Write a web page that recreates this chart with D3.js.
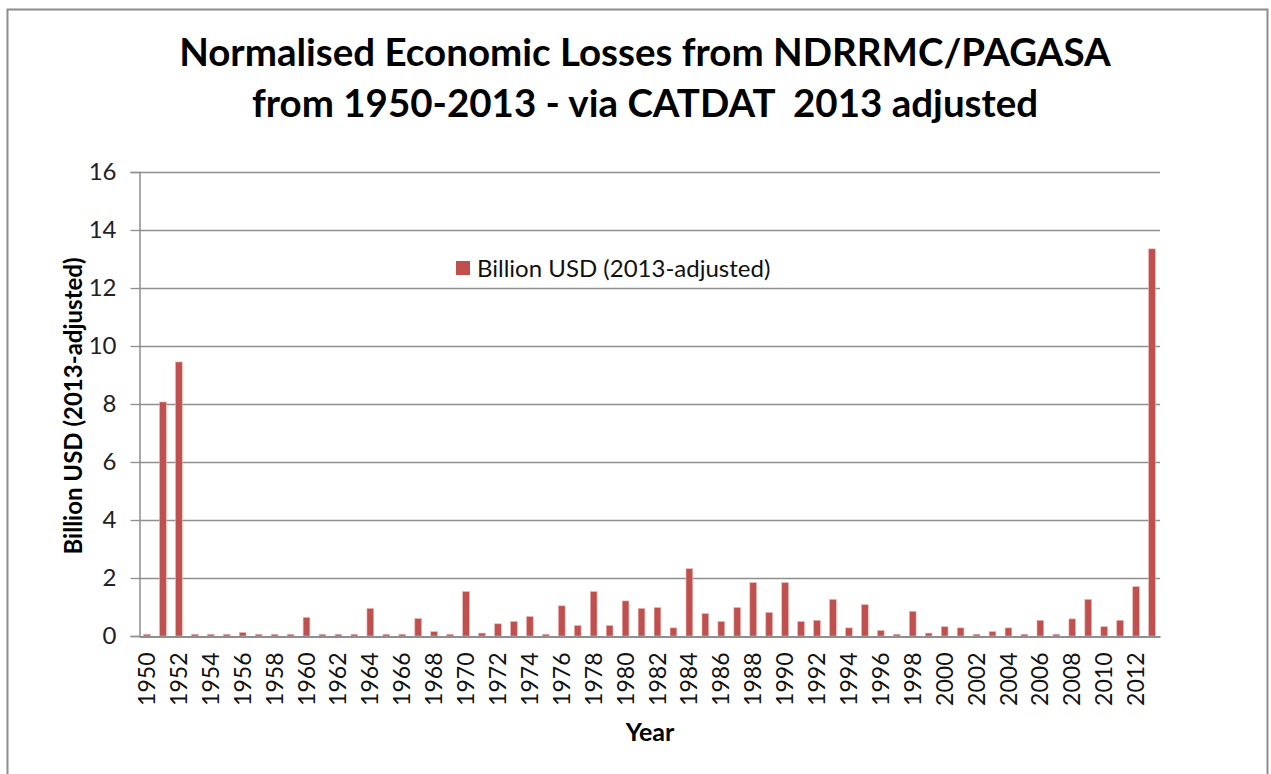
<!DOCTYPE html>
<html>
<head>
<meta charset="utf-8">
<script src="https://cdn.jsdelivr.net/npm/d3@7"></script>
<style>
  body { margin: 0; background: #fff; }
  svg { display: block; font-family: Lato, "Open Sans", sans-serif; }
</style>
</head>
<body>
<svg id="chart" width="1271" height="774"></svg>
<script>
// years 1950..2013
let years = d3.range(1950, 2014);
// Billion USD (2013-adjusted)
let losses = [
  0.06, 8.07, 9.45, 0.06, 0.06, 0.06, 0.12, 0.06, 0.06, 0.06,   // 1950s
  0.64, 0.06, 0.06, 0.06, 0.95, 0.06, 0.06, 0.60, 0.15, 0.06,   // 1960s
  1.53, 0.10, 0.42, 0.50, 0.67, 0.06, 1.04, 0.36, 1.53, 0.36,   // 1970s
  1.21, 0.95, 0.98, 0.28, 2.32, 0.77, 0.50, 0.98, 1.84, 0.81,   // 1980s
  1.84, 0.50, 0.54, 1.26, 0.28, 1.08, 0.19, 0.06, 0.85, 0.10,   // 1990s
  0.32, 0.28, 0.06, 0.15, 0.28, 0.06, 0.54, 0.06, 0.59, 1.26,   // 2000s
  0.32, 0.54, 1.70, 13.35                                        // 2010s
];
let yTicks = [0, 2, 4, 6, 8, 10, 12, 14, 16];
let xTickYears = years.filter(y => y % 2 == 0);
let titleLines = ["Normalised Economic Losses from NDRRMC/PAGASA", "from 1950-2013 - via CATDAT  2013 adjusted"];
let seriesName = "Billion USD (2013-adjusted)";

const svg = d3.select("#chart");
const plotL = 139, plotR = 1160, plotT = 172, plotB = 636;
const barColor = "#C0504D";

// outer frame
svg.append("rect")
  .attr("x", 7.5).attr("y", 9.5)
  .attr("width", 1260).attr("height", 770)
  .attr("fill", "#fff").attr("stroke", "#8c8c8c").attr("stroke-width", 2);

var x = d3.scaleBand().domain(years).range([plotL, plotR]).paddingInner(0.58).paddingOuter(0.29);
var y = d3.scaleLinear().domain([0, 16]).range([plotB, plotT]);

// gridlines
svg.append("g").selectAll("line")
  .data(yTicks.filter(t => t > 0))
  .enter().append("line")
  .attr("x1", plotL).attr("x2", plotR)
  .attr("y1", d => Math.round(y(d)) + 0.5).attr("y2", d => Math.round(y(d)) + 0.5)
  .attr("stroke", "#8f8f8f").attr("stroke-width", 1.3);

// y axis
var yAxis = d3.axisLeft(y).tickValues(yTicks).tickSize(9).tickPadding(14);
var gy = svg.append("g").attr("transform", "translate(" + (plotL + 0.5) + ",0)").call(yAxis);
gy.select(".domain").attr("stroke", "#8f8f8f").attr("stroke-width", 1.5);
gy.selectAll(".tick line").attr("stroke", "#8f8f8f").attr("stroke-width", 1.3);
gy.selectAll(".tick text").attr("font-size", 24).attr("fill", "#222").attr("font-family", "Lato, sans-serif");

// bars
svg.append("g").selectAll("rect")
  .data(years)
  .enter().append("rect")
  .attr("x", (d) => x(d))
  .attr("width", x.bandwidth())
  .attr("y", (d, i) => y(losses[i]))
  .attr("height", (d, i) => plotB - y(losses[i]))
  .attr("fill", barColor)
  .attr("stroke", "#e8b5b3").attr("stroke-width", 0.6);

// x axis
var xAxis = d3.axisBottom(x).tickValues(xTickYears).tickSize(0).tickPadding(0);
var gx = svg.append("g").attr("transform", "translate(0," + (plotB + 0.5) + ")").call(xAxis);
gx.select(".domain").attr("stroke", "#8f8f8f").attr("stroke-width", 2);
gx.selectAll(".tick text")
  .attr("font-size", 23).attr("fill", "#111").attr("font-family", "Lato, sans-serif")
  .attr("transform", "rotate(-90)")
  .attr("text-anchor", "end")
  .attr("x", -16).attr("y", 0).attr("dy", "0.35em");

// titles
svg.append("g").selectAll("text")
  .data(titleLines)
  .enter().append("text")
  .attr("x", 645).attr("y", (d, i) => 66 + i * 51)
  .attr("text-anchor", "middle")
  .style("white-space", "pre")
  .attr("font-size", 38.5).attr("font-weight", "bold").attr("fill", "#000")
  .text(d => d);

svg.append("text")
  .attr("x", 650).attr("y", 741)
  .attr("text-anchor", "middle")
  .attr("font-size", 25).attr("font-weight", "bold")
  .text("Year");

svg.append("text")
  .attr("transform", "translate(82,406) rotate(-90)")
  .attr("text-anchor", "middle")
  .attr("font-size", 24).attr("font-weight", "bold")
  .text("Billion USD (2013-adjusted)");

// legend
var legend = svg.append("g").attr("transform", "translate(456,261)");
legend.append("rect").attr("width", 14).attr("height", 14).attr("fill", barColor);
legend.append("text").attr("x", 21).attr("y", 16).attr("font-size", 24).attr("fill", "#111").text(seriesName);
</script>
</body>
</html>
